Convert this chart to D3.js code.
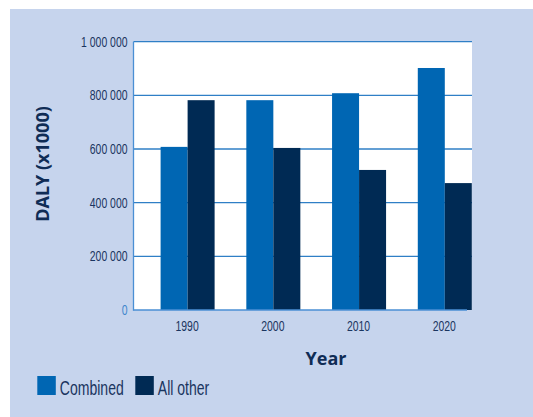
<!DOCTYPE html>
<html><head><meta charset="utf-8">
<script src="https://cdn.jsdelivr.net/npm/d3@7"></script>
<style>
body{margin:0;background:#fff;}
svg{display:block;}
</style></head>
<body>
<script>
const years = ["1990","2000","2010","2020"];
const seriesNames = ["Combined","All other"];
const combined = [608000, 782000, 808000, 902000];
const allOther = [782000, 604000, 522000, 473000];
const yTicks = [0, 200000, 400000, 600000, 800000, 1000000];
const colors = ["#0066b3", "#002a54"];

const W = 533, H = 417;
const svg = d3.select("body").append("svg").attr("width", W).attr("height", H);
svg.append("rect").attr("x",10).attr("y",9).attr("width",W-10).attr("height",H-9).attr("fill","#c6d4ed");

const plotL = 133.5, plotR = 472, plotT = 41.7, plotB = 310;
svg.append("rect").attr("x",plotL).attr("y",plotT).attr("width",plotR-plotL).attr("height",plotB-plotT).attr("fill","#fff");

const y = d3.scaleLinear().domain([0,1000000]).range([plotB, plotT]);
const x0 = d3.scaleBand().domain(years).range([160.6, 471.8]).paddingInner(0.37).paddingOuter(0);
const x1 = d3.scaleBand().domain(seriesNames).range([0, x0.bandwidth()]);

const fmt = v => d3.format(",")(v).replace(/,/g, " ");
const narrow = "'Liberation Sans', Arial, sans-serif";

function ntext(sel, x, yv, txt, size, fill, anchor, sx){
  return sel.append("text")
    .attr("transform", `translate(${x},${yv}) scale(${sx},1)`)
    .attr("text-anchor", anchor || "start")
    .attr("font-family", narrow).attr("font-size", size)
    .attr("fill", fill).text(txt);
}

// gridlines
svg.append("g").selectAll("line").data(yTicks.filter(d=>d>0)).join("line")
  .attr("x1", plotL).attr("x2", plotR)
  .attr("y1", d=>y(d)).attr("y2", d=>y(d))
  .attr("stroke", "#2f7fc6").attr("stroke-width", 1.3);

// bars
const data = years.map((yr,i)=>({year:yr, vals:[combined[i], allOther[i]]}));
const g = svg.append("g");
data.forEach(d=>{
  d.vals.forEach((v,j)=>{
    g.append("rect")
      .attr("x", x0(d.year) + x1(seriesNames[j]))
      .attr("y", y(v))
      .attr("width", x1.bandwidth())
      .attr("height", y(0)-y(v))
      .attr("fill", colors[j]);
  });
});

// axes lines
svg.append("line").attr("x1",plotL).attr("x2",plotL).attr("y1",plotT).attr("y2",plotB+0.7)
  .attr("stroke","#4a8fd4").attr("stroke-width",1.3);
svg.append("line").attr("x1",plotL).attr("x2",467).attr("y1",plotB).attr("y2",plotB)
  .attr("stroke","#4a8fd4").attr("stroke-width",1.3);

// y tick labels
const yl = svg.append("g");
yTicks.forEach(d=>{
  ntext(yl, 127.5, y(d)+5, fmt(d), 14.5, d===0 ? "#3d86cc" : "#1a3560", "end", 0.72);
});

// x tick labels
const xl = svg.append("g");
years.forEach(d=>{
  ntext(xl, x0(d)+x0.bandwidth()/2 - 0.5, 331, d, 14.5, "#1a3560", "middle", 0.72);
});

// axis titles
svg.append("text").attr("x", 326).attr("y", 365)
  .attr("text-anchor","middle").attr("font-family","'Open Sans', sans-serif")
  .attr("font-weight","bold").attr("font-size",18).attr("fill","#0f2c55").text("Year");
svg.append("text").attr("transform","translate(49,164) rotate(-90)")
  .attr("text-anchor","middle").attr("font-family","'Open Sans', sans-serif")
  .attr("font-weight","bold").attr("font-size",18).attr("fill","#0f2c55").text("DALY (x1000)");

// legend
const legX = [37.3, 135.3];
const leg = svg.append("g");
seriesNames.forEach((s,i)=>{
  leg.append("rect").attr("x",legX[i]).attr("y",376).attr("width",18.5).attr("height",19).attr("fill",colors[i]);
  ntext(leg, legX[i]+22.5, 395, s, 19.5, "#1a3560", "start", 0.72);
});
</script>
</body></html>
